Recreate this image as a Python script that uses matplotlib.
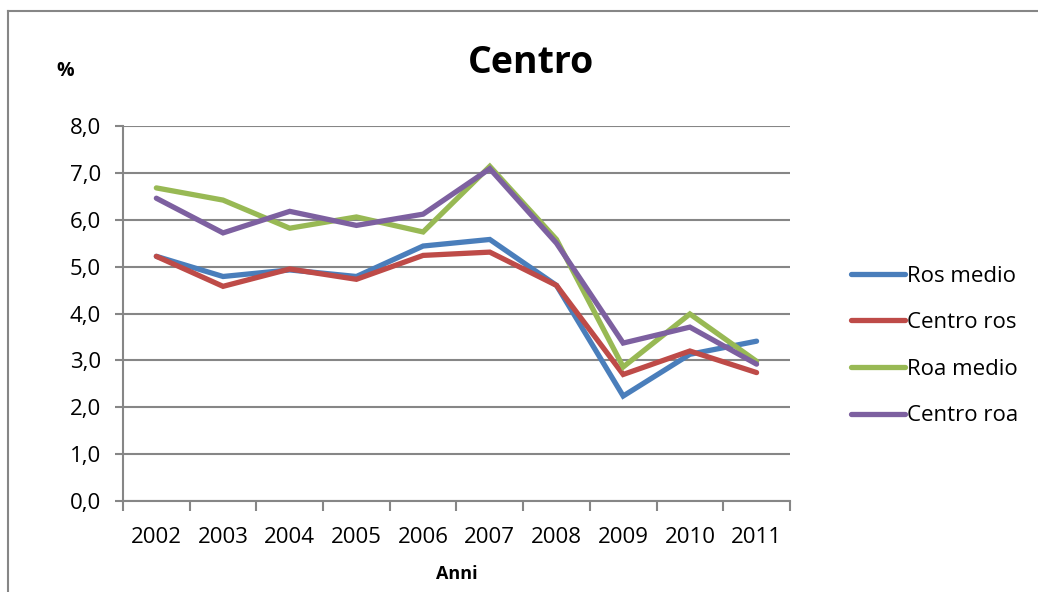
import matplotlib
matplotlib.use('Agg')
import matplotlib.pyplot as plt
from matplotlib.lines import Line2D
import numpy as np

# values (%)
years = ['2002', '2003', '2004', '2005', '2006', '2007', '2008', '2009', '2010', '2011']
ros_medio = [5.22, 4.79, 4.93, 4.79, 5.44, 5.58, 4.60, 2.24, 3.13, 3.41]
centro_ros = [5.22, 4.58, 4.95, 4.73, 5.24, 5.31, 4.60, 2.70, 3.20, 2.74]
roa_medio = [6.68, 6.42, 5.82, 6.06, 5.74, 7.14, 5.58, 2.86, 3.99, 2.98]
centro_roa = [6.46, 5.72, 6.18, 5.88, 6.12, 7.09, 5.50, 3.37, 3.71, 2.92]

series = [('Ros medio', ros_medio, '#4A7EBB'),
          ('Centro ros', centro_ros, '#BE4B48'),
          ('Roa medio', roa_medio, '#98B954'),
          ('Centro roa', centro_roa, '#7D60A0')]

plt.rcParams['font.family'] = ['Open Sans', 'DejaVu Sans']

fig = plt.figure(figsize=(10.38, 5.92), dpi=100)
ax = fig.add_axes([0.1185, 0.1537, 0.6425, 0.6334])

x = np.arange(len(years))
for name, vals, col in series:
    ax.plot(x, vals, color=col, lw=3.8, label=name, solid_capstyle='round', solid_joinstyle='miter')

ax.set_xlim(-0.5, len(years) - 0.5)
ax.set_ylim(0, 8)
ax.set_yticks(np.arange(0, 8.1, 1))
ax.set_yticklabels([f'{v:.1f}'.replace('.', ',') for v in np.arange(0, 8.1, 1)], fontsize=16)
ax.set_xticks(x)
ax.set_xticklabels(years, fontsize=16)
ax.set_xticks(np.arange(-0.5, len(years)), minor=True)
ax.tick_params(axis='x', which='major', length=0, pad=19)
ax.tick_params(axis='x', which='minor', length=7, width=1.5, color='#868686', direction='out')
ax.tick_params(axis='y', length=6, width=1.5, color='#868686', pad=10)

ax.grid(axis='y', color='#868686', lw=1.5)
ax.set_axisbelow(True)
for s in ['top', 'right']:
    ax.spines[s].set_visible(False)
for s in ['left', 'bottom']:
    ax.spines[s].set_color('#868686')
    ax.spines[s].set_linewidth(1.5)

ax.set_xlabel('Anni', fontsize=13, fontweight='bold', labelpad=12)
fig.text(56 / 1038, 1 - 71 / 592, '%', fontsize=14, fontweight='bold', va='center', ha='left')
fig.text(531 / 1038, 1 - 63 / 592, 'Centro', fontsize=27, fontweight='bold', ha='center', va='center')

ax.legend(loc='center left', bbox_to_anchor=(0.801, 1 - 346 / 592), bbox_transform=fig.transFigure,
          frameon=False, fontsize=16, handlelength=2.4, handletextpad=0.1, labelspacing=1.15)

# chart border (left and top visible in the reference)
fig.add_artist(Line2D([8 / 1038, 8 / 1038], [0, 1 - 11 / 592], color='#868686', lw=1.5))
fig.add_artist(Line2D([8 / 1038, 1], [1 - 11 / 592, 1 - 11 / 592], color='#868686', lw=1.5))

fig.savefig('out.png', dpi=100)
